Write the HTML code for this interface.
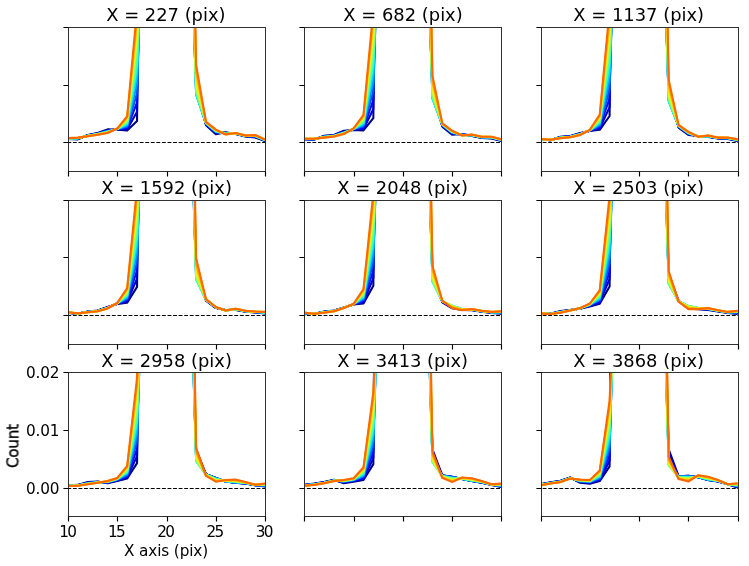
<!DOCTYPE html>
<html lang="en"><head><meta charset="utf-8"><title>Profiles</title>
<style>html,body{margin:0;padding:0;background:#fff}svg{display:block}</style></head>
<body>
<svg width="749" height="566" viewBox="0 0 749 566" font-family="'DejaVu Sans', 'Liberation Sans', sans-serif" fill="#000">
<rect width="749" height="566" fill="#fff"/>
<defs>
<clipPath id="c00"><rect x="68.5" y="27.5" width="197.0" height="144.0"/></clipPath>
<clipPath id="c01"><rect x="304.5" y="27.5" width="197.0" height="144.0"/></clipPath>
<clipPath id="c02"><rect x="541.5" y="27.5" width="197.0" height="144.0"/></clipPath>
<clipPath id="c10"><rect x="68.5" y="200.5" width="197.0" height="144.0"/></clipPath>
<clipPath id="c11"><rect x="304.5" y="200.5" width="197.0" height="144.0"/></clipPath>
<clipPath id="c12"><rect x="541.5" y="200.5" width="197.0" height="144.0"/></clipPath>
<clipPath id="c20"><rect x="68.5" y="372.5" width="197.0" height="144.0"/></clipPath>
<clipPath id="c21"><rect x="304.5" y="372.5" width="197.0" height="144.0"/></clipPath>
<clipPath id="c22"><rect x="541.5" y="372.5" width="197.0" height="144.0"/></clipPath>
</defs>
<g clip-path="url(#c00)" fill="none" stroke-width="2.08" stroke-linejoin="round" stroke-linecap="butt">
<polyline stroke="#000080" points="68.10,139.00 77.95,139.40 87.80,134.90 97.65,133.00 107.50,129.40 117.35,129.80 127.20,130.40 137.05,121.00 146.90,-1357.50"/>
<polyline stroke="#000080" points="186.30,-257.50 196.15,82.50 206.00,125.30 215.85,134.20 225.70,132.20 235.55,134.00 245.40,136.50 255.25,137.50 265.10,141.00"/>
<polyline stroke="#0000cd" points="68.10,138.80 77.95,138.99 87.80,135.19 97.65,133.38 107.50,130.21 117.35,129.51 127.20,129.22 137.05,111.71 146.90,-657.50"/>
<polyline stroke="#0000cd" points="186.30,-233.61 196.15,87.15 206.00,124.53 215.85,133.16 225.70,132.72 235.55,133.77 245.40,136.27 255.25,136.94 265.10,140.71"/>
<polyline stroke="#0008ff" points="68.10,138.69 77.95,138.79 87.80,135.34 97.65,133.58 107.50,130.63 117.35,129.36 127.20,128.03 137.05,102.42 146.90,-337.50"/>
<polyline stroke="#0008ff" points="186.30,-216.94 196.15,90.69 206.00,124.14 215.85,132.63 225.70,132.98 235.55,133.66 245.40,136.16 255.25,136.65 265.10,140.56"/>
<polyline stroke="#004cff" points="68.10,138.61 77.95,138.62 87.80,135.47 97.65,133.74 107.50,130.97 117.35,129.23 127.20,126.85 137.05,93.12 146.90,-237.50"/>
<polyline stroke="#004cff" points="186.30,-207.50 196.15,93.12 206.00,123.82 215.85,132.20 225.70,133.20 235.55,133.56 245.40,136.06 255.25,136.41 265.10,140.43"/>
<polyline stroke="#0090ff" points="68.10,138.53 77.95,138.47 87.80,135.57 97.65,133.88 107.50,131.26 117.35,129.13 127.20,125.67 137.05,83.83 146.90,-197.50"/>
<polyline stroke="#0090ff" points="186.30,-205.28 196.15,94.44 206.00,123.54 215.85,131.82 225.70,133.39 235.55,133.48 245.40,135.98 255.25,136.21 265.10,140.33"/>
<polyline stroke="#00d4ff" points="68.10,138.47 77.95,138.34 87.80,135.67 97.65,134.01 107.50,131.53 117.35,129.03 127.20,124.48 137.05,74.54 146.90,-177.50"/>
<polyline stroke="#00d4ff" points="186.30,-210.28 196.15,94.65 206.00,123.29 215.85,131.48 225.70,133.56 235.55,133.41 245.40,135.91 255.25,136.02 265.10,140.23"/>
<polyline stroke="#29ffce" points="68.10,138.41 77.95,138.21 87.80,135.76 97.65,134.12 107.50,131.78 117.35,128.94 127.20,123.30 137.05,65.25 146.90,-177.50"/>
<polyline stroke="#29ffce" points="186.30,-222.50 196.15,93.75 206.00,123.06 215.85,131.17 225.70,133.72 235.55,133.34 245.40,135.84 255.25,135.85 265.10,140.14"/>
<polyline stroke="#60ff97" points="68.10,138.35 77.95,138.10 87.80,135.84 97.65,134.23 107.50,132.01 117.35,128.86 127.20,122.12 137.05,55.96 146.90,-177.50"/>
<polyline stroke="#60ff97" points="186.30,-241.94 196.15,91.74 206.00,122.84 215.85,130.87 225.70,133.86 235.55,133.28 245.40,135.78 255.25,135.69 265.10,140.06"/>
<polyline stroke="#97ff60" points="68.10,138.29 77.95,137.99 87.80,135.92 97.65,134.33 107.50,132.22 117.35,128.78 127.20,120.93 137.05,46.67 146.90,-177.50"/>
<polyline stroke="#97ff60" points="186.30,-268.61 196.15,88.61 206.00,122.63 215.85,130.59 225.70,134.00 235.55,133.22 245.40,135.72 255.25,135.54 265.10,139.98"/>
<polyline stroke="#ceff29" points="68.10,138.24 77.95,137.89 87.80,135.99 97.65,134.43 107.50,132.43 117.35,128.71 127.20,119.75 137.05,37.38 146.90,-177.50"/>
<polyline stroke="#ceff29" points="186.30,-302.50 196.15,84.38 206.00,122.44 215.85,130.33 225.70,134.14 235.55,133.16 245.40,135.66 255.25,135.40 265.10,139.91"/>
<polyline stroke="#ffe600" points="68.10,138.19 77.95,137.79 87.80,136.07 97.65,134.52 107.50,132.63 117.35,128.63 127.20,118.57 137.05,28.08 146.90,-177.50"/>
<polyline stroke="#ffe600" points="186.30,-343.61 196.15,79.03 206.00,122.25 215.85,130.08 225.70,134.26 235.55,133.10 245.40,135.60 255.25,135.26 265.10,139.83"/>
<polyline stroke="#ffa700" points="68.10,138.15 77.95,137.69 87.80,136.13 97.65,134.61 107.50,132.82 117.35,128.57 127.20,117.38 137.05,18.79 146.90,-177.50"/>
<polyline stroke="#ffa700" points="186.30,-391.94 196.15,72.57 206.00,122.07 215.85,129.83 225.70,134.38 235.55,133.05 245.40,135.55 255.25,135.13 265.10,139.77"/>
<polyline stroke="#ff6800" points="68.10,138.10 77.95,137.60 87.80,136.20 97.65,134.70 107.50,133.00 117.35,128.50 127.20,116.20 137.05,9.50 146.90,-177.50"/>
<polyline stroke="#ff6800" points="186.30,-447.50 196.15,65.00 206.00,121.90 215.85,129.60 225.70,134.50 235.55,133.00 245.40,135.50 255.25,135.00 265.10,139.70"/>
</g>
<line x1="68.5" y1="142.5" x2="265.5" y2="142.5" stroke="#000" stroke-width="1.05" stroke-dasharray="3.87 1.695" stroke-dashoffset="1.165"/>
<rect x="68.5" y="27.5" width="197.0" height="144.0" fill="none" stroke="#303030" stroke-width="1"/>
<path d="M68.5,171.5v5.1 M117.5,171.5v5.1 M167.5,171.5v5.1 M216.5,171.5v5.1 M265.5,171.5v5.1 M68.5,27.5h-5.1 M68.5,85.5h-5.1 M68.5,142.5h-5.1" stroke="#000" stroke-width="1.15" fill="none"/>
<g clip-path="url(#c01)" fill="none" stroke-width="2.08" stroke-linejoin="round" stroke-linecap="butt">
<polyline stroke="#000080" points="304.40,139.30 314.25,139.60 324.10,135.70 333.95,135.00 343.80,130.80 353.65,130.00 363.50,130.40 373.35,118.10 383.20,-1357.50"/>
<polyline stroke="#000080" points="422.60,-257.50 432.45,88.50 442.30,126.60 452.15,134.60 462.00,134.00 471.85,136.00 481.70,138.00 491.55,138.50 501.40,141.00"/>
<polyline stroke="#0000cd" points="304.40,139.16 314.25,139.40 324.10,136.13 333.95,135.34 343.80,131.52 353.65,129.62 363.50,129.11 373.35,109.05 383.20,-657.50"/>
<polyline stroke="#0000cd" points="422.60,-233.61 432.45,92.32 442.30,125.88 452.15,133.74 462.00,134.34 471.85,135.68 481.70,137.71 491.55,138.09 501.40,140.62"/>
<polyline stroke="#0008ff" points="304.40,139.10 314.25,139.29 324.10,136.35 333.95,135.51 343.80,131.89 353.65,129.42 363.50,127.82 373.35,100.00 383.20,-337.50"/>
<polyline stroke="#0008ff" points="422.60,-216.94 432.45,95.26 442.30,125.51 452.15,133.30 462.00,134.51 471.85,135.52 481.70,137.56 491.55,137.89 501.40,140.42"/>
<polyline stroke="#004cff" points="304.40,139.04 314.25,139.21 324.10,136.53 333.95,135.65 343.80,132.19 353.65,129.26 363.50,126.53 373.35,90.95 383.20,-237.50"/>
<polyline stroke="#004cff" points="422.60,-207.50 432.45,97.30 442.30,125.21 452.15,132.95 462.00,134.65 471.85,135.39 481.70,137.43 491.55,137.72 501.40,140.26"/>
<polyline stroke="#0090ff" points="304.40,138.99 314.25,139.13 324.10,136.68 333.95,135.78 343.80,132.46 353.65,129.12 363.50,125.23 373.35,81.90 383.20,-197.50"/>
<polyline stroke="#0090ff" points="422.60,-205.28 432.45,98.46 442.30,124.94 452.15,132.63 462.00,134.78 471.85,135.28 481.70,137.33 491.55,137.57 501.40,140.12"/>
<polyline stroke="#00d4ff" points="304.40,138.95 314.25,139.07 324.10,136.82 333.95,135.89 343.80,132.69 353.65,128.99 363.50,123.94 373.35,72.85 383.20,-177.50"/>
<polyline stroke="#00d4ff" points="422.60,-210.28 432.45,98.72 442.30,124.71 452.15,132.35 462.00,134.89 471.85,135.17 481.70,137.23 491.55,137.44 501.40,139.99"/>
<polyline stroke="#29ffce" points="304.40,138.90 314.25,139.01 324.10,136.95 333.95,135.99 343.80,132.91 353.65,128.88 363.50,122.65 373.35,63.80 383.20,-177.50"/>
<polyline stroke="#29ffce" points="422.60,-222.50 432.45,98.10 442.30,124.49 452.15,132.09 462.00,134.99 471.85,135.08 481.70,137.14 491.55,137.31 501.40,139.88"/>
<polyline stroke="#60ff97" points="304.40,138.87 314.25,138.95 324.10,137.08 333.95,136.09 343.80,133.12 353.65,128.77 363.50,121.36 373.35,54.75 383.20,-177.50"/>
<polyline stroke="#60ff97" points="422.60,-241.94 432.45,96.59 442.30,124.28 452.15,131.85 462.00,135.09 471.85,134.99 481.70,137.06 491.55,137.20 501.40,139.77"/>
<polyline stroke="#97ff60" points="304.40,138.83 314.25,138.89 324.10,137.19 333.95,136.18 343.80,133.31 353.65,128.67 363.50,120.07 373.35,45.70 383.20,-177.50"/>
<polyline stroke="#97ff60" points="422.60,-268.61 432.45,94.19 442.30,124.09 452.15,131.62 462.00,135.18 471.85,134.90 481.70,136.98 491.55,137.09 501.40,139.67"/>
<polyline stroke="#ceff29" points="304.40,138.80 314.25,138.84 324.10,137.30 333.95,136.26 343.80,133.49 353.65,128.57 363.50,118.78 373.35,36.65 383.20,-177.50"/>
<polyline stroke="#ceff29" points="422.60,-302.50 432.45,90.90 442.30,123.91 452.15,131.40 462.00,135.26 471.85,134.82 481.70,136.91 491.55,136.99 501.40,139.57"/>
<polyline stroke="#ffe600" points="304.40,138.76 314.25,138.79 324.10,137.40 333.95,136.34 343.80,133.67 353.65,128.48 363.50,117.48 373.35,27.60 383.20,-177.50"/>
<polyline stroke="#ffe600" points="422.60,-343.61 432.45,86.72 442.30,123.73 452.15,131.19 462.00,135.34 471.85,134.75 481.70,136.83 491.55,136.89 501.40,139.48"/>
<polyline stroke="#ffa700" points="304.40,138.73 314.25,138.75 324.10,137.50 333.95,136.42 343.80,133.84 353.65,128.39 363.50,116.19 373.35,18.55 383.20,-177.50"/>
<polyline stroke="#ffa700" points="422.60,-391.94 432.45,81.66 442.30,123.56 452.15,130.99 462.00,135.42 471.85,134.67 481.70,136.77 491.55,136.79 501.40,139.39"/>
<polyline stroke="#ff6800" points="304.40,138.70 314.25,138.70 324.10,137.60 333.95,136.50 343.80,134.00 353.65,128.30 363.50,114.90 373.35,9.50 383.20,-177.50"/>
<polyline stroke="#ff6800" points="422.60,-447.50 432.45,75.70 442.30,123.40 452.15,130.80 462.00,135.50 471.85,134.60 481.70,136.70 491.55,136.70 501.40,139.30"/>
</g>
<line x1="304.5" y1="142.5" x2="501.5" y2="142.5" stroke="#000" stroke-width="1.05" stroke-dasharray="3.87 1.695" stroke-dashoffset="3.215"/>
<rect x="304.5" y="27.5" width="197.0" height="144.0" fill="none" stroke="#303030" stroke-width="1"/>
<path d="M304.5,171.5v5.1 M354.5,171.5v5.1 M403.5,171.5v5.1 M452.5,171.5v5.1 M501.5,171.5v5.1 M304.5,27.5h-5.1 M304.5,85.5h-5.1 M304.5,142.5h-5.1" stroke="#000" stroke-width="1.15" fill="none"/>
<g clip-path="url(#c02)" fill="none" stroke-width="2.08" stroke-linejoin="round" stroke-linecap="butt">
<polyline stroke="#000080" points="540.65,139.50 550.50,140.30 560.35,136.70 570.20,136.00 580.05,133.00 589.90,131.00 599.75,129.80 609.60,116.00 619.45,-1357.50"/>
<polyline stroke="#000080" points="658.85,-257.50 668.70,91.50 678.55,127.60 688.40,135.00 698.25,136.00 708.10,137.00 717.95,138.50 727.80,139.00 737.65,141.00"/>
<polyline stroke="#0000cd" points="540.65,139.36 550.50,140.16 560.35,137.04 570.20,136.27 580.05,133.45 589.90,130.73 599.75,128.53 609.60,107.12 619.45,-657.50"/>
<polyline stroke="#0000cd" points="658.85,-233.61 668.70,95.12 678.55,126.99 688.40,134.30 698.25,136.16 708.10,136.66 717.95,138.30 727.80,138.68 737.65,140.62"/>
<polyline stroke="#0008ff" points="540.65,139.30 550.50,140.10 560.35,137.21 570.20,136.41 580.05,133.68 589.90,130.59 599.75,127.25 609.60,98.25 619.45,-337.50"/>
<polyline stroke="#0008ff" points="658.85,-216.94 668.70,97.92 678.55,126.68 688.40,133.94 698.25,136.24 708.10,136.49 717.95,138.19 727.80,138.52 737.65,140.42"/>
<polyline stroke="#004cff" points="540.65,139.24 550.50,140.04 560.35,137.35 570.20,136.52 580.05,133.87 589.90,130.48 599.75,125.98 609.60,89.38 619.45,-237.50"/>
<polyline stroke="#004cff" points="658.85,-207.50 668.70,99.88 678.55,126.42 688.40,133.65 698.25,136.30 708.10,136.35 717.95,138.11 727.80,138.39 737.65,140.26"/>
<polyline stroke="#0090ff" points="540.65,139.19 550.50,139.99 560.35,137.48 570.20,136.62 580.05,134.03 589.90,130.38 599.75,124.70 609.60,80.50 619.45,-197.50"/>
<polyline stroke="#0090ff" points="658.85,-205.28 668.70,101.00 678.55,126.20 688.40,133.40 698.25,136.36 708.10,136.22 717.95,138.03 727.80,138.28 737.65,140.12"/>
<polyline stroke="#00d4ff" points="540.65,139.15 550.50,139.95 560.35,137.59 570.20,136.71 580.05,134.18 589.90,130.29 599.75,123.43 609.60,71.62 619.45,-177.50"/>
<polyline stroke="#00d4ff" points="658.85,-210.28 668.70,101.29 678.55,126.00 688.40,133.17 698.25,136.41 708.10,136.11 717.95,137.97 727.80,138.17 737.65,139.99"/>
<polyline stroke="#29ffce" points="540.65,139.10 550.50,139.90 560.35,137.69 570.20,136.79 580.05,134.32 589.90,130.21 599.75,122.15 609.60,62.75 619.45,-177.50"/>
<polyline stroke="#29ffce" points="658.85,-222.50 668.70,100.75 678.55,125.82 688.40,132.95 698.25,136.46 708.10,136.01 717.95,137.91 727.80,138.08 737.65,139.88"/>
<polyline stroke="#60ff97" points="540.65,139.07 550.50,139.87 560.35,137.79 570.20,136.87 580.05,134.45 589.90,130.13 599.75,120.88 609.60,53.87 619.45,-177.50"/>
<polyline stroke="#60ff97" points="658.85,-241.94 668.70,99.38 678.55,125.65 688.40,132.76 698.25,136.51 708.10,135.91 717.95,137.85 727.80,137.99 737.65,139.77"/>
<polyline stroke="#97ff60" points="540.65,139.03 550.50,139.83 560.35,137.88 570.20,136.94 580.05,134.57 589.90,130.06 599.75,119.60 609.60,45.00 619.45,-177.50"/>
<polyline stroke="#97ff60" points="658.85,-268.61 668.70,97.17 678.55,125.48 688.40,132.57 698.25,136.55 708.10,135.82 717.95,137.79 727.80,137.90 737.65,139.67"/>
<polyline stroke="#ceff29" points="540.65,139.00 550.50,139.80 560.35,137.96 570.20,137.01 580.05,134.68 589.90,129.99 599.75,118.33 609.60,36.12 619.45,-177.50"/>
<polyline stroke="#ceff29" points="658.85,-302.50 668.70,94.12 678.55,125.33 688.40,132.39 698.25,136.59 708.10,135.74 717.95,137.74 727.80,137.82 737.65,139.57"/>
<polyline stroke="#ffe600" points="540.65,138.96 550.50,139.76 560.35,138.04 570.20,137.08 580.05,134.79 589.90,129.92 599.75,117.05 609.60,27.25 619.45,-177.50"/>
<polyline stroke="#ffe600" points="658.85,-343.61 668.70,90.25 678.55,125.18 688.40,132.22 698.25,136.63 708.10,135.66 717.95,137.69 727.80,137.75 737.65,139.48"/>
<polyline stroke="#ffa700" points="540.65,138.93 550.50,139.73 560.35,138.12 570.20,137.14 580.05,134.90 589.90,129.86 599.75,115.78 609.60,18.38 619.45,-177.50"/>
<polyline stroke="#ffa700" points="658.85,-391.94 668.70,85.54 678.55,125.04 688.40,132.06 698.25,136.66 708.10,135.58 717.95,137.65 727.80,137.67 737.65,139.39"/>
<polyline stroke="#ff6800" points="540.65,138.90 550.50,139.70 560.35,138.20 570.20,137.20 580.05,135.00 589.90,129.80 599.75,114.50 609.60,9.50 619.45,-177.50"/>
<polyline stroke="#ff6800" points="658.85,-447.50 668.70,80.00 678.55,124.90 688.40,131.90 698.25,136.70 708.10,135.50 717.95,137.60 727.80,137.60 737.65,139.30"/>
</g>
<line x1="541.5" y1="142.5" x2="738.5" y2="142.5" stroke="#000" stroke-width="1.05" stroke-dasharray="3.87 1.695" stroke-dashoffset="4.415"/>
<rect x="541.5" y="27.5" width="197.0" height="144.0" fill="none" stroke="#303030" stroke-width="1"/>
<path d="M541.5,171.5v5.1 M590.5,171.5v5.1 M639.5,171.5v5.1 M688.5,171.5v5.1 M738.5,171.5v5.1 M541.5,27.5h-5.1 M541.5,85.5h-5.1 M541.5,142.5h-5.1" stroke="#000" stroke-width="1.15" fill="none"/>
<g clip-path="url(#c10)" fill="none" stroke-width="2.08" stroke-linejoin="round" stroke-linecap="butt">
<polyline stroke="#000080" points="68.10,312.90 77.95,313.70 87.80,311.50 97.65,310.50 107.50,307.00 117.35,304.00 127.20,302.80 137.05,286.90 146.90,-1184.50"/>
<polyline stroke="#000080" points="186.30,-84.50 196.15,263.50 206.00,300.70 215.85,308.10 225.70,310.00 235.55,310.00 245.40,311.70 255.25,312.50 265.10,313.50"/>
<polyline stroke="#0000cd" points="68.10,312.76 77.95,313.63 87.80,311.68 97.65,310.68 107.50,307.34 117.35,303.73 127.20,301.57 137.05,278.62 146.90,-484.50"/>
<polyline stroke="#0000cd" points="186.30,-60.61 196.15,268.75 206.00,300.36 215.85,307.85 225.70,310.14 235.55,309.71 245.40,311.50 255.25,312.27 265.10,313.14"/>
<polyline stroke="#0008ff" points="68.10,312.70 77.95,313.60 87.80,311.77 97.65,310.77 107.50,307.51 117.35,303.59 127.20,300.33 137.05,270.33 146.90,-164.50"/>
<polyline stroke="#0008ff" points="186.30,-43.94 196.15,272.97 206.00,300.19 215.85,307.72 225.70,310.20 235.55,309.56 245.40,311.39 255.25,312.16 265.10,312.95"/>
<polyline stroke="#004cff" points="68.10,312.64 77.95,313.57 87.80,311.85 97.65,310.85 107.50,307.65 117.35,303.48 127.20,299.10 137.05,262.05 146.90,-64.50"/>
<polyline stroke="#004cff" points="186.30,-34.50 196.15,276.15 206.00,300.05 215.85,307.62 225.70,310.26 235.55,309.43 245.40,311.31 255.25,312.06 265.10,312.80"/>
<polyline stroke="#0090ff" points="68.10,312.59 77.95,313.54 87.80,311.91 97.65,310.91 107.50,307.78 117.35,303.38 127.20,297.87 137.05,253.77 146.90,-24.50"/>
<polyline stroke="#0090ff" points="186.30,-32.28 196.15,278.30 206.00,299.92 215.85,307.53 225.70,310.31 235.55,309.33 245.40,311.23 255.25,311.98 265.10,312.67"/>
<polyline stroke="#00d4ff" points="68.10,312.55 77.95,313.52 87.80,311.97 97.65,310.97 107.50,307.89 117.35,303.29 127.20,296.63 137.05,245.48 146.90,-4.50"/>
<polyline stroke="#00d4ff" points="186.30,-37.28 196.15,279.42 206.00,299.81 215.85,307.45 225.70,310.35 235.55,309.23 245.40,311.17 255.25,311.91 265.10,312.55"/>
<polyline stroke="#29ffce" points="68.10,312.50 77.95,313.50 87.80,312.03 97.65,311.03 107.50,307.99 117.35,303.21 127.20,295.40 137.05,237.20 146.90,-4.50"/>
<polyline stroke="#29ffce" points="186.30,-49.50 196.15,279.50 206.00,299.71 215.85,307.37 225.70,310.40 235.55,309.14 245.40,311.11 255.25,311.84 265.10,312.44"/>
<polyline stroke="#60ff97" points="68.10,312.47 77.95,313.48 87.80,312.08 97.65,311.08 107.50,308.09 117.35,303.13 127.20,294.17 137.05,228.92 146.90,-4.50"/>
<polyline stroke="#60ff97" points="186.30,-68.94 196.15,278.55 206.00,299.61 215.85,307.30 225.70,310.43 235.55,309.06 245.40,311.05 255.25,311.78 265.10,312.34"/>
<polyline stroke="#97ff60" points="68.10,312.43 77.95,313.46 87.80,312.13 97.65,311.13 107.50,308.18 117.35,303.06 127.20,292.93 137.05,220.63 146.90,-4.50"/>
<polyline stroke="#97ff60" points="186.30,-95.61 196.15,276.57 206.00,299.52 215.85,307.24 225.70,310.47 235.55,308.98 245.40,310.99 255.25,311.72 265.10,312.25"/>
<polyline stroke="#ceff29" points="68.10,312.40 77.95,313.45 87.80,312.17 97.65,311.17 107.50,308.26 117.35,302.99 127.20,291.70 137.05,212.35 146.90,-4.50"/>
<polyline stroke="#ceff29" points="186.30,-129.50 196.15,273.55 206.00,299.44 215.85,307.17 225.70,310.50 235.55,308.91 245.40,310.94 255.25,311.66 265.10,312.15"/>
<polyline stroke="#ffe600" points="68.10,312.36 77.95,313.43 87.80,312.22 97.65,311.22 107.50,308.34 117.35,302.92 127.20,290.47 137.05,204.07 146.90,-4.50"/>
<polyline stroke="#ffe600" points="186.30,-170.61 196.15,269.50 206.00,299.36 215.85,307.11 225.70,310.54 235.55,308.83 245.40,310.89 255.25,311.60 265.10,312.07"/>
<polyline stroke="#ffa700" points="68.10,312.33 77.95,313.42 87.80,312.26 97.65,311.26 107.50,308.42 117.35,302.86 127.20,289.23 137.05,195.78 146.90,-4.50"/>
<polyline stroke="#ffa700" points="186.30,-218.94 196.15,264.42 206.00,299.28 215.85,307.06 225.70,310.57 235.55,308.77 245.40,310.85 255.25,311.55 265.10,311.98"/>
<polyline stroke="#ff6800" points="68.10,312.30 77.95,313.40 87.80,312.30 97.65,311.30 107.50,308.50 117.35,302.80 127.20,288.00 137.05,187.50 146.90,-4.50"/>
<polyline stroke="#ff6800" points="186.30,-274.50 196.15,258.30 206.00,299.20 215.85,307.00 225.70,310.60 235.55,308.70 245.40,310.80 255.25,311.50 265.10,311.90"/>
</g>
<line x1="68.5" y1="315.5" x2="265.5" y2="315.5" stroke="#000" stroke-width="1.05" stroke-dasharray="3.87 1.695" stroke-dashoffset="1.165"/>
<rect x="68.5" y="200.5" width="197.0" height="144.0" fill="none" stroke="#303030" stroke-width="1"/>
<path d="M68.5,344.5v5.1 M117.5,344.5v5.1 M167.5,344.5v5.1 M216.5,344.5v5.1 M265.5,344.5v5.1 M68.5,200.5h-5.1 M68.5,257.5h-5.1 M68.5,315.5h-5.1" stroke="#000" stroke-width="1.15" fill="none"/>
<g clip-path="url(#c11)" fill="none" stroke-width="2.08" stroke-linejoin="round" stroke-linecap="butt">
<polyline stroke="#000080" points="304.40,313.10 314.25,313.90 324.10,311.50 333.95,310.50 343.80,307.50 353.65,304.50 363.50,303.40 373.35,285.80 383.20,-1184.50"/>
<polyline stroke="#000080" points="422.60,-84.50 432.45,269.50 442.30,302.40 452.15,308.30 462.00,309.90 471.85,310.20 481.70,311.70 491.55,312.90 501.40,313.70"/>
<polyline stroke="#0000cd" points="304.40,313.01 314.25,313.88 324.10,311.77 333.95,310.68 343.80,307.64 353.65,304.34 363.50,302.20 373.35,278.05 383.20,-484.50"/>
<polyline stroke="#0000cd" points="422.60,-60.61 432.45,273.46 442.30,302.02 452.15,307.52 462.00,309.66 471.85,309.95 481.70,311.50 491.55,312.67 501.40,313.16"/>
<polyline stroke="#0008ff" points="304.40,312.96 314.25,313.87 324.10,311.91 333.95,310.77 343.80,307.70 353.65,304.26 363.50,301.00 373.35,270.30 383.20,-164.50"/>
<polyline stroke="#0008ff" points="422.60,-43.94 432.45,276.64 442.30,301.82 452.15,306.90 462.00,309.45 471.85,309.82 481.70,311.39 491.55,312.56 501.40,312.88"/>
<polyline stroke="#004cff" points="304.40,312.93 314.25,313.86 324.10,312.02 333.95,310.85 343.80,307.76 353.65,304.20 363.50,299.80 373.35,262.55 383.20,-64.50"/>
<polyline stroke="#004cff" points="422.60,-34.50 432.45,279.05 442.30,301.66 452.15,306.41 462.00,309.28 471.85,309.72 481.70,311.31 491.55,312.46 501.40,312.66"/>
<polyline stroke="#0090ff" points="304.40,312.89 314.25,313.85 324.10,312.12 333.95,310.91 343.80,307.81 353.65,304.14 363.50,298.60 373.35,254.80 383.20,-24.50"/>
<polyline stroke="#0090ff" points="422.60,-32.28 432.45,280.68 442.30,301.52 452.15,306.06 462.00,309.17 471.85,309.63 481.70,311.23 491.55,312.38 501.40,312.46"/>
<polyline stroke="#00d4ff" points="304.40,312.86 314.25,313.84 324.10,312.21 333.95,310.97 343.80,307.85 353.65,304.09 363.50,297.40 373.35,247.05 383.20,-4.50"/>
<polyline stroke="#00d4ff" points="422.60,-37.28 432.45,281.53 442.30,301.39 452.15,305.85 462.00,309.11 471.85,309.55 481.70,311.17 491.55,312.31 501.40,312.28"/>
<polyline stroke="#29ffce" points="304.40,312.84 314.25,313.83 324.10,312.29 333.95,311.03 343.80,307.90 353.65,304.04 363.50,296.20 373.35,239.30 383.20,-4.50"/>
<polyline stroke="#29ffce" points="422.60,-49.50 432.45,281.60 442.30,301.28 452.15,305.77 462.00,309.10 471.85,309.47 481.70,311.11 491.55,312.24 501.40,312.12"/>
<polyline stroke="#60ff97" points="304.40,312.81 314.25,313.83 324.10,312.37 333.95,311.08 343.80,307.93 353.65,303.99 363.50,295.00 373.35,231.55 383.20,-4.50"/>
<polyline stroke="#60ff97" points="422.60,-68.94 432.45,280.89 442.30,301.17 452.15,305.82 462.00,309.14 471.85,309.40 481.70,311.05 491.55,312.18 501.40,311.96"/>
<polyline stroke="#97ff60" points="304.40,312.79 314.25,313.82 324.10,312.44 333.95,311.13 343.80,307.97 353.65,303.95 363.50,293.80 373.35,223.80 383.20,-4.50"/>
<polyline stroke="#97ff60" points="422.60,-95.61 432.45,279.41 442.30,301.07 452.15,306.01 462.00,309.25 471.85,309.34 481.70,310.99 491.55,312.12 501.40,311.82"/>
<polyline stroke="#ceff29" points="304.40,312.76 314.25,313.82 324.10,312.51 333.95,311.17 343.80,308.00 353.65,303.91 363.50,292.60 373.35,216.05 383.20,-4.50"/>
<polyline stroke="#ceff29" points="422.60,-129.50 432.45,277.15 442.30,300.97 452.15,306.33 462.00,309.40 471.85,309.27 481.70,310.94 491.55,312.06 501.40,311.68"/>
<polyline stroke="#ffe600" points="304.40,312.74 314.25,313.81 324.10,312.58 333.95,311.22 343.80,308.04 353.65,303.87 363.50,291.40 373.35,208.30 383.20,-4.50"/>
<polyline stroke="#ffe600" points="422.60,-170.61 432.45,274.11 442.30,300.88 452.15,306.79 462.00,309.61 471.85,309.21 481.70,310.89 491.55,312.00 501.40,311.55"/>
<polyline stroke="#ffa700" points="304.40,312.72 314.25,313.81 324.10,312.64 333.95,311.26 343.80,308.07 353.65,303.84 363.50,290.20 373.35,200.55 383.20,-4.50"/>
<polyline stroke="#ffa700" points="422.60,-218.94 432.45,270.29 442.30,300.79 452.15,307.38 462.00,309.88 471.85,309.16 481.70,310.85 491.55,311.95 501.40,311.42"/>
<polyline stroke="#ff6800" points="304.40,312.70 314.25,313.80 324.10,312.70 333.95,311.30 343.80,308.10 353.65,303.80 363.50,289.00 373.35,192.80 383.20,-4.50"/>
<polyline stroke="#ff6800" points="422.60,-274.50 432.45,265.70 442.30,300.70 452.15,308.10 462.00,310.20 471.85,309.10 481.70,310.80 491.55,311.90 501.40,311.30"/>
</g>
<line x1="304.5" y1="315.5" x2="501.5" y2="315.5" stroke="#000" stroke-width="1.05" stroke-dasharray="3.87 1.695" stroke-dashoffset="3.215"/>
<rect x="304.5" y="200.5" width="197.0" height="144.0" fill="none" stroke="#303030" stroke-width="1"/>
<path d="M304.5,344.5v5.1 M354.5,344.5v5.1 M403.5,344.5v5.1 M452.5,344.5v5.1 M501.5,344.5v5.1 M304.5,200.5h-5.1 M304.5,257.5h-5.1 M304.5,315.5h-5.1" stroke="#000" stroke-width="1.15" fill="none"/>
<g clip-path="url(#c12)" fill="none" stroke-width="2.08" stroke-linejoin="round" stroke-linecap="butt">
<polyline stroke="#000080" points="540.65,313.10 550.50,313.70 560.35,311.10 570.20,310.00 580.05,308.70 589.90,306.50 599.75,303.80 609.60,286.50 619.45,-1184.50"/>
<polyline stroke="#000080" points="658.85,-84.50 668.70,273.50 678.55,300.70 688.40,308.70 698.25,309.30 708.10,310.00 717.95,311.50 727.80,312.90 737.65,313.90"/>
<polyline stroke="#0000cd" points="540.65,313.17 550.50,313.77 560.35,311.46 570.20,310.14 580.05,308.56 589.90,305.82 599.75,302.66 609.60,278.92 619.45,-484.50"/>
<polyline stroke="#0000cd" points="658.85,-60.61 668.70,276.81 678.55,300.93 688.40,307.87 698.25,308.89 708.10,309.57 717.95,311.21 727.80,312.67 737.65,313.20"/>
<polyline stroke="#0008ff" points="540.65,313.20 550.50,313.80 560.35,311.65 570.20,310.20 580.05,308.50 589.90,305.48 599.75,301.52 609.60,271.33 619.45,-164.50"/>
<polyline stroke="#0008ff" points="658.85,-43.94 668.70,279.47 678.55,301.04 688.40,307.17 698.25,308.57 708.10,309.35 717.95,311.06 727.80,312.56 737.65,312.84"/>
<polyline stroke="#004cff" points="540.65,313.23 550.50,313.83 560.35,311.80 570.20,310.26 580.05,308.44 589.90,305.19 599.75,300.38 609.60,263.75 619.45,-64.50"/>
<polyline stroke="#004cff" points="658.85,-34.50 668.70,281.50 678.55,301.14 688.40,306.62 698.25,308.31 708.10,309.17 717.95,310.93 727.80,312.46 737.65,312.55"/>
<polyline stroke="#0090ff" points="540.65,313.26 550.50,313.86 560.35,311.93 570.20,310.31 580.05,308.39 589.90,304.95 599.75,299.23 609.60,256.17 619.45,-24.50"/>
<polyline stroke="#0090ff" points="658.85,-32.28 668.70,282.89 678.55,301.22 688.40,306.24 698.25,308.13 708.10,309.02 717.95,310.83 727.80,312.38 737.65,312.30"/>
<polyline stroke="#00d4ff" points="540.65,313.28 550.50,313.88 560.35,312.05 570.20,310.35 580.05,308.35 589.90,304.73 599.75,298.09 609.60,248.58 619.45,-4.50"/>
<polyline stroke="#00d4ff" points="658.85,-37.28 668.70,283.64 678.55,301.29 688.40,306.02 698.25,308.02 708.10,308.88 717.95,310.73 727.80,312.31 737.65,312.07"/>
<polyline stroke="#29ffce" points="540.65,313.30 550.50,313.90 560.35,312.16 570.20,310.40 580.05,308.30 589.90,304.52 599.75,296.95 609.60,241.00 619.45,-4.50"/>
<polyline stroke="#29ffce" points="658.85,-49.50 668.70,283.75 678.55,301.36 688.40,305.96 698.25,307.97 708.10,308.75 717.95,310.64 727.80,312.24 737.65,311.85"/>
<polyline stroke="#60ff97" points="540.65,313.32 550.50,313.92 560.35,312.26 570.20,310.43 580.05,308.27 589.90,304.33 599.75,295.81 609.60,233.42 619.45,-4.50"/>
<polyline stroke="#60ff97" points="658.85,-68.94 668.70,283.22 678.55,301.42 688.40,306.07 698.25,307.99 708.10,308.62 717.95,310.56 727.80,312.18 737.65,311.66"/>
<polyline stroke="#97ff60" points="540.65,313.34 550.50,313.94 560.35,312.35 570.20,310.47 580.05,308.23 589.90,304.15 599.75,294.67 609.60,225.83 619.45,-4.50"/>
<polyline stroke="#97ff60" points="658.85,-95.61 668.70,282.06 678.55,301.48 688.40,306.35 698.25,308.08 708.10,308.51 717.95,310.48 727.80,312.12 737.65,311.47"/>
<polyline stroke="#ceff29" points="540.65,313.35 550.50,313.95 560.35,312.45 570.20,310.50 580.05,308.20 589.90,303.98 599.75,293.52 609.60,218.25 619.45,-4.50"/>
<polyline stroke="#ceff29" points="658.85,-129.50 668.70,280.25 678.55,301.54 688.40,306.79 698.25,308.23 708.10,308.40 717.95,310.41 727.80,312.06 737.65,311.29"/>
<polyline stroke="#ffe600" points="540.65,313.37 550.50,313.97 560.35,312.53 570.20,310.54 580.05,308.16 589.90,303.81 599.75,292.38 609.60,210.67 619.45,-4.50"/>
<polyline stroke="#ffe600" points="658.85,-170.61 668.70,277.81 678.55,301.60 688.40,307.39 698.25,308.45 708.10,308.30 717.95,310.33 727.80,312.00 737.65,311.12"/>
<polyline stroke="#ffa700" points="540.65,313.38 550.50,313.98 560.35,312.62 570.20,310.57 580.05,308.13 589.90,303.65 599.75,291.24 609.60,203.08 619.45,-4.50"/>
<polyline stroke="#ffa700" points="658.85,-218.94 668.70,274.72 678.55,301.65 688.40,308.16 698.25,308.74 708.10,308.20 717.95,310.27 727.80,311.95 737.65,310.96"/>
<polyline stroke="#ff6800" points="540.65,313.40 550.50,314.00 560.35,312.70 570.20,310.60 580.05,308.10 589.90,303.50 599.75,290.10 609.60,195.50 619.45,-4.50"/>
<polyline stroke="#ff6800" points="658.85,-274.50 668.70,271.00 678.55,301.70 688.40,309.10 698.25,309.10 708.10,308.10 717.95,310.20 727.80,311.90 737.65,310.80"/>
</g>
<line x1="541.5" y1="315.5" x2="738.5" y2="315.5" stroke="#000" stroke-width="1.05" stroke-dasharray="3.87 1.695" stroke-dashoffset="4.415"/>
<rect x="541.5" y="200.5" width="197.0" height="144.0" fill="none" stroke="#303030" stroke-width="1"/>
<path d="M541.5,344.5v5.1 M590.5,344.5v5.1 M639.5,344.5v5.1 M688.5,344.5v5.1 M738.5,344.5v5.1 M541.5,200.5h-5.1 M541.5,257.5h-5.1 M541.5,315.5h-5.1" stroke="#000" stroke-width="1.15" fill="none"/>
<g clip-path="url(#c20)" fill="none" stroke-width="2.08" stroke-linejoin="round" stroke-linecap="butt">
<polyline stroke="#000080" points="68.10,485.50 77.95,484.90 87.80,482.10 97.65,481.50 107.50,483.20 117.35,481.10 127.20,478.50 137.05,463.10 146.90,-1011.50"/>
<polyline stroke="#000080" points="186.30,88.50 196.15,449.50 206.00,474.30 215.85,477.90 225.70,481.50 235.55,482.80 245.40,483.60 255.25,485.30 265.10,486.40"/>
<polyline stroke="#0000cd" points="68.10,485.61 77.95,485.08 87.80,482.60 97.65,481.79 107.50,482.73 117.35,480.38 127.20,477.44 137.05,455.98 146.90,-311.50"/>
<polyline stroke="#0000cd" points="186.30,112.39 196.15,453.21 206.00,474.31 215.85,477.93 225.70,481.49 235.55,482.78 245.40,483.48 255.25,485.25 265.10,486.17"/>
<polyline stroke="#0008ff" points="68.10,485.67 77.95,485.17 87.80,482.85 97.65,481.94 107.50,482.48 117.35,480.01 127.20,476.38 137.05,448.87 146.90,8.50"/>
<polyline stroke="#0008ff" points="186.30,129.06 196.15,456.23 206.00,474.34 215.85,478.01 225.70,481.46 235.55,482.71 245.40,483.35 255.25,485.20 265.10,485.93"/>
<polyline stroke="#004cff" points="68.10,485.72 77.95,485.25 87.80,483.06 97.65,482.07 107.50,482.29 117.35,479.71 127.20,475.32 137.05,441.75 146.90,108.50"/>
<polyline stroke="#004cff" points="186.30,138.50 196.15,458.55 206.00,474.39 215.85,478.14 225.70,481.41 235.55,482.60 245.40,483.23 255.25,485.15 265.10,485.70"/>
<polyline stroke="#0090ff" points="68.10,485.76 77.95,485.31 87.80,483.24 97.65,482.17 107.50,482.11 117.35,479.44 127.20,474.27 137.05,434.63 146.90,148.50"/>
<polyline stroke="#0090ff" points="186.30,140.72 196.15,460.18 206.00,474.47 215.85,478.32 225.70,481.33 235.55,482.44 245.40,483.10 255.25,485.10 265.10,485.47"/>
<polyline stroke="#00d4ff" points="68.10,485.80 77.95,485.37 87.80,483.40 97.65,482.27 107.50,481.96 117.35,479.21 127.20,473.21 137.05,427.52 146.90,168.50"/>
<polyline stroke="#00d4ff" points="186.30,135.72 196.15,461.11 206.00,474.56 215.85,478.56 225.70,481.24 235.55,482.24 245.40,482.98 255.25,485.05 265.10,485.23"/>
<polyline stroke="#29ffce" points="68.10,485.83 77.95,485.43 87.80,483.55 97.65,482.36 107.50,481.81 117.35,478.99 127.20,472.15 137.05,420.40 146.90,168.50"/>
<polyline stroke="#29ffce" points="186.30,123.50 196.15,461.35 206.00,474.68 215.85,478.85 225.70,481.12 235.55,482.00 245.40,482.85 255.25,485.00 265.10,485.00"/>
<polyline stroke="#60ff97" points="68.10,485.86 77.95,485.48 87.80,483.69 97.65,482.44 107.50,481.68 117.35,478.78 127.20,471.09 137.05,413.28 146.90,168.50"/>
<polyline stroke="#60ff97" points="186.30,104.06 196.15,460.89 206.00,474.81 215.85,479.19 225.70,480.99 235.55,481.71 245.40,482.73 255.25,484.95 265.10,484.77"/>
<polyline stroke="#97ff60" points="68.10,485.89 77.95,485.53 87.80,483.82 97.65,482.52 107.50,481.55 117.35,478.59 127.20,470.03 137.05,406.17 146.90,168.50"/>
<polyline stroke="#97ff60" points="186.30,77.39 196.15,459.74 206.00,474.97 215.85,479.59 225.70,480.83 235.55,481.38 245.40,482.60 255.25,484.90 265.10,484.53"/>
<polyline stroke="#ceff29" points="68.10,485.92 77.95,485.57 87.80,483.95 97.65,482.59 107.50,481.43 117.35,478.41 127.20,468.98 137.05,399.05 146.90,168.50"/>
<polyline stroke="#ceff29" points="186.30,43.50 196.15,457.90 206.00,475.14 215.85,480.04 225.70,480.66 235.55,481.00 245.40,482.48 255.25,484.85 265.10,484.30"/>
<polyline stroke="#ffe600" points="68.10,485.95 77.95,485.62 87.80,484.07 97.65,482.67 107.50,481.32 117.35,478.23 127.20,467.92 137.05,391.93 146.90,168.50"/>
<polyline stroke="#ffe600" points="186.30,2.39 196.15,455.36 206.00,475.34 215.85,480.54 225.70,480.46 235.55,480.58 245.40,482.35 255.25,484.80 265.10,484.07"/>
<polyline stroke="#ffa700" points="68.10,485.97 77.95,485.66 87.80,484.19 97.65,482.73 107.50,481.21 117.35,478.06 127.20,466.86 137.05,384.82 146.90,168.50"/>
<polyline stroke="#ffa700" points="186.30,-45.94 196.15,452.13 206.00,475.56 215.85,481.09 225.70,480.24 235.55,480.11 245.40,482.23 255.25,484.75 265.10,483.83"/>
<polyline stroke="#ff6800" points="68.10,486.00 77.95,485.70 87.80,484.30 97.65,482.80 107.50,481.10 117.35,477.90 127.20,465.80 137.05,377.70 146.90,168.50"/>
<polyline stroke="#ff6800" points="186.30,-101.50 196.15,448.20 206.00,475.80 215.85,481.70 225.70,480.00 235.55,479.60 245.40,482.10 255.25,484.70 265.10,483.60"/>
</g>
<line x1="68.5" y1="488.5" x2="265.5" y2="488.5" stroke="#000" stroke-width="1.05" stroke-dasharray="3.87 1.695" stroke-dashoffset="1.165"/>
<rect x="68.5" y="372.5" width="197.0" height="144.0" fill="none" stroke="#303030" stroke-width="1"/>
<path d="M68.5,516.5v5.1 M117.5,516.5v5.1 M167.5,516.5v5.1 M216.5,516.5v5.1 M265.5,516.5v5.1 M68.5,372.5h-5.1 M68.5,430.5h-5.1 M68.5,488.5h-5.1" stroke="#000" stroke-width="1.15" fill="none"/>
<g clip-path="url(#c21)" fill="none" stroke-width="2.08" stroke-linejoin="round" stroke-linecap="butt">
<polyline stroke="#000080" points="304.40,484.80 314.25,483.60 324.10,481.90 333.95,479.70 343.80,483.20 353.65,481.70 363.50,480.00 373.35,464.10 383.20,-1011.50"/>
<polyline stroke="#000080" points="422.60,88.50 432.45,449.30 442.30,475.40 452.15,476.80 462.00,479.00 471.85,481.10 481.70,482.80 491.55,484.90 501.40,487.00"/>
<polyline stroke="#0000cd" points="304.40,485.00 314.25,483.89 324.10,482.19 333.95,480.02 343.80,482.48 353.65,480.93 363.50,478.94 373.35,458.10 383.20,-311.50"/>
<polyline stroke="#0000cd" points="422.60,112.39 432.45,453.03 442.30,475.42 452.15,476.84 462.00,478.99 471.85,481.08 481.70,482.66 491.55,484.85 501.40,486.72"/>
<polyline stroke="#0008ff" points="304.40,485.11 314.25,484.04 324.10,482.34 333.95,480.18 343.80,482.11 353.65,480.54 363.50,477.88 373.35,452.10 383.20,8.50"/>
<polyline stroke="#0008ff" points="422.60,129.06 432.45,456.11 442.30,475.47 452.15,476.95 462.00,478.96 471.85,481.02 481.70,482.52 491.55,484.80 501.40,486.43"/>
<polyline stroke="#004cff" points="304.40,485.19 314.25,484.17 324.10,482.47 333.95,480.31 343.80,481.81 353.65,480.22 363.50,476.82 373.35,446.10 383.20,108.50"/>
<polyline stroke="#004cff" points="422.60,138.50 432.45,458.55 442.30,475.56 452.15,477.13 462.00,478.91 471.85,480.93 481.70,482.38 491.55,484.75 501.40,486.15"/>
<polyline stroke="#0090ff" points="304.40,485.27 314.25,484.27 324.10,482.57 333.95,480.42 343.80,481.54 353.65,479.94 363.50,475.77 373.35,440.10 383.20,148.50"/>
<polyline stroke="#0090ff" points="422.60,140.72 432.45,460.34 442.30,475.68 452.15,477.39 462.00,478.83 471.85,480.79 481.70,482.23 491.55,484.70 501.40,485.87"/>
<polyline stroke="#00d4ff" points="304.40,485.33 314.25,484.37 324.10,482.67 333.95,480.53 343.80,481.31 353.65,479.69 363.50,474.71 373.35,434.10 383.20,168.50"/>
<polyline stroke="#00d4ff" points="422.60,135.72 432.45,461.49 442.30,475.83 452.15,477.72 462.00,478.74 471.85,480.61 481.70,482.09 491.55,484.65 501.40,485.58"/>
<polyline stroke="#29ffce" points="304.40,485.39 314.25,484.46 324.10,482.76 333.95,480.62 343.80,481.09 353.65,479.46 363.50,473.65 373.35,428.10 383.20,168.50"/>
<polyline stroke="#29ffce" points="422.60,123.50 432.45,462.00 442.30,476.02 452.15,478.12 462.00,478.62 471.85,480.40 481.70,481.95 491.55,484.60 501.40,485.30"/>
<polyline stroke="#60ff97" points="304.40,485.45 314.25,484.54 324.10,482.84 333.95,480.71 343.80,480.88 353.65,479.24 363.50,472.59 373.35,422.10 383.20,168.50"/>
<polyline stroke="#60ff97" points="422.60,104.06 432.45,461.86 442.30,476.25 452.15,478.60 462.00,478.49 471.85,480.15 481.70,481.81 491.55,484.55 501.40,485.02"/>
<polyline stroke="#97ff60" points="304.40,485.51 314.25,484.62 324.10,482.92 333.95,480.80 343.80,480.69 353.65,479.03 363.50,471.53 373.35,416.10 383.20,168.50"/>
<polyline stroke="#97ff60" points="422.60,77.39 432.45,461.08 442.30,476.51 452.15,479.16 462.00,478.33 471.85,479.86 481.70,481.67 491.55,484.50 501.40,484.73"/>
<polyline stroke="#ceff29" points="304.40,485.56 314.25,484.69 324.10,482.99 333.95,480.88 343.80,480.51 353.65,478.84 363.50,470.48 373.35,410.10 383.20,168.50"/>
<polyline stroke="#ceff29" points="422.60,43.50 432.45,459.65 442.30,476.81 452.15,479.78 462.00,478.16 471.85,479.52 481.70,481.52 491.55,484.45 501.40,484.45"/>
<polyline stroke="#ffe600" points="304.40,485.61 314.25,484.77 324.10,483.07 333.95,480.95 343.80,480.33 353.65,478.65 363.50,469.42 373.35,404.10 383.20,168.50"/>
<polyline stroke="#ffe600" points="422.60,2.39 432.45,457.58 442.30,477.14 452.15,480.48 462.00,477.96 471.85,479.16 481.70,481.38 491.55,484.40 501.40,484.17"/>
<polyline stroke="#ffa700" points="304.40,485.65 314.25,484.83 324.10,483.13 333.95,481.03 343.80,480.16 353.65,478.47 363.50,468.36 373.35,398.10 383.20,168.50"/>
<polyline stroke="#ffa700" points="422.60,-45.94 432.45,454.86 442.30,477.50 452.15,481.25 462.00,477.74 471.85,478.75 481.70,481.24 491.55,484.35 501.40,483.88"/>
<polyline stroke="#ff6800" points="304.40,485.70 314.25,484.90 324.10,483.20 333.95,481.10 343.80,480.00 353.65,478.30 363.50,467.30 373.35,392.10 383.20,168.50"/>
<polyline stroke="#ff6800" points="422.60,-101.50 432.45,451.50 442.30,477.90 452.15,482.10 462.00,477.50 471.85,478.30 481.70,481.10 491.55,484.30 501.40,483.60"/>
</g>
<line x1="304.5" y1="488.5" x2="501.5" y2="488.5" stroke="#000" stroke-width="1.05" stroke-dasharray="3.87 1.695" stroke-dashoffset="3.215"/>
<rect x="304.5" y="372.5" width="197.0" height="144.0" fill="none" stroke="#303030" stroke-width="1"/>
<path d="M304.5,516.5v5.1 M354.5,516.5v5.1 M403.5,516.5v5.1 M452.5,516.5v5.1 M501.5,516.5v5.1 M304.5,372.5h-5.1 M304.5,430.5h-5.1 M304.5,488.5h-5.1" stroke="#000" stroke-width="1.15" fill="none"/>
<g clip-path="url(#c22)" fill="none" stroke-width="2.08" stroke-linejoin="round" stroke-linecap="butt">
<polyline stroke="#000080" points="540.65,484.20 550.50,482.30 560.35,480.70 570.20,477.50 580.05,482.80 589.90,483.80 599.75,481.10 609.60,466.30 619.45,-1011.50"/>
<polyline stroke="#000080" points="658.85,88.50 668.70,449.30 678.55,476.20 688.40,475.80 698.25,477.30 708.10,480.00 717.95,481.50 727.80,484.30 737.65,487.50"/>
<polyline stroke="#0000cd" points="540.65,484.45 550.50,482.59 560.35,481.02 570.20,477.73 580.05,482.08 589.90,482.94 599.75,480.22 609.60,460.82 619.45,-311.50"/>
<polyline stroke="#0000cd" points="658.85,112.39 668.70,453.58 678.55,476.22 688.40,475.84 698.25,477.29 708.10,479.98 717.95,481.38 727.80,484.30 737.65,487.14"/>
<polyline stroke="#0008ff" points="540.65,484.58 550.50,482.74 560.35,481.18 570.20,477.84 580.05,481.71 589.90,482.50 599.75,479.33 609.60,455.35 619.45,8.50"/>
<polyline stroke="#0008ff" points="658.85,129.06 668.70,457.20 678.55,476.28 688.40,475.96 698.25,477.24 708.10,479.91 717.95,481.25 727.80,484.30 737.65,486.78"/>
<polyline stroke="#004cff" points="540.65,484.68 550.50,482.87 560.35,481.31 570.20,477.94 580.05,481.41 589.90,482.15 599.75,478.45 609.60,449.88 619.45,108.50"/>
<polyline stroke="#004cff" points="658.85,138.50 668.70,460.15 678.55,476.38 688.40,476.16 698.25,477.17 708.10,479.80 717.95,481.12 727.80,484.30 737.65,486.43"/>
<polyline stroke="#0090ff" points="540.65,484.77 550.50,482.97 560.35,481.42 570.20,478.02 580.05,481.14 589.90,481.83 599.75,477.57 609.60,444.40 619.45,148.50"/>
<polyline stroke="#0090ff" points="658.85,140.72 668.70,462.43 678.55,476.51 688.40,476.43 698.25,477.07 708.10,479.64 717.95,481.00 727.80,484.30 737.65,486.07"/>
<polyline stroke="#00d4ff" points="540.65,484.85 550.50,483.07 560.35,481.53 570.20,478.09 580.05,480.91 589.90,481.55 599.75,476.68 609.60,438.93 619.45,168.50"/>
<polyline stroke="#00d4ff" points="658.85,135.72 668.70,464.05 678.55,476.69 688.40,476.79 698.25,476.94 708.10,479.44 717.95,480.88 727.80,484.30 737.65,485.71"/>
<polyline stroke="#29ffce" points="540.65,484.93 550.50,483.16 560.35,481.62 570.20,478.16 580.05,480.69 589.90,481.29 599.75,475.80 609.60,433.45 619.45,168.50"/>
<polyline stroke="#29ffce" points="658.85,123.50 668.70,465.00 678.55,476.90 688.40,477.23 698.25,476.77 708.10,479.20 717.95,480.75 727.80,484.30 737.65,485.35"/>
<polyline stroke="#60ff97" points="540.65,485.00 550.50,483.24 560.35,481.71 570.20,478.22 580.05,480.48 589.90,481.05 599.75,474.92 609.60,427.98 619.45,168.50"/>
<polyline stroke="#60ff97" points="658.85,104.06 668.70,465.28 678.55,477.15 688.40,477.74 698.25,476.59 708.10,478.91 717.95,480.62 727.80,484.30 737.65,484.99"/>
<polyline stroke="#97ff60" points="540.65,485.06 550.50,483.32 560.35,481.80 570.20,478.28 580.05,480.29 589.90,480.82 599.75,474.03 609.60,422.50 619.45,168.50"/>
<polyline stroke="#97ff60" points="658.85,77.39 668.70,464.90 678.55,477.44 688.40,478.33 698.25,476.37 708.10,478.58 717.95,480.50 727.80,484.30 737.65,484.63"/>
<polyline stroke="#ceff29" points="540.65,485.13 550.50,483.39 560.35,481.88 570.20,478.34 580.05,480.11 589.90,480.60 599.75,473.15 609.60,417.02 619.45,168.50"/>
<polyline stroke="#ceff29" points="658.85,43.50 668.70,463.85 678.55,477.77 688.40,479.01 698.25,476.12 708.10,478.20 717.95,480.38 727.80,484.30 737.65,484.27"/>
<polyline stroke="#ffe600" points="540.65,485.19 550.50,483.47 560.35,481.95 570.20,478.40 580.05,479.93 589.90,480.39 599.75,472.27 609.60,411.55 619.45,168.50"/>
<polyline stroke="#ffe600" points="658.85,2.39 668.70,462.13 678.55,478.14 688.40,479.76 698.25,475.84 708.10,477.78 717.95,480.25 727.80,484.30 737.65,483.92"/>
<polyline stroke="#ffa700" points="540.65,485.24 550.50,483.53 560.35,482.03 570.20,478.45 580.05,479.76 589.90,480.19 599.75,471.38 609.60,406.07 619.45,168.50"/>
<polyline stroke="#ffa700" points="658.85,-45.94 668.70,459.75 678.55,478.55 688.40,480.59 698.25,475.54 708.10,477.31 717.95,480.12 727.80,484.30 737.65,483.56"/>
<polyline stroke="#ff6800" points="540.65,485.30 550.50,483.60 560.35,482.10 570.20,478.50 580.05,479.60 589.90,480.00 599.75,470.50 609.60,400.60 619.45,168.50"/>
<polyline stroke="#ff6800" points="658.85,-101.50 668.70,456.70 678.55,479.00 688.40,481.50 698.25,475.20 708.10,476.80 717.95,480.00 727.80,484.30 737.65,483.20"/>
</g>
<line x1="541.5" y1="488.5" x2="738.5" y2="488.5" stroke="#000" stroke-width="1.05" stroke-dasharray="3.87 1.695" stroke-dashoffset="4.415"/>
<rect x="541.5" y="372.5" width="197.0" height="144.0" fill="none" stroke="#303030" stroke-width="1"/>
<path d="M541.5,516.5v5.1 M590.5,516.5v5.1 M639.5,516.5v5.1 M688.5,516.5v5.1 M738.5,516.5v5.1 M541.5,372.5h-5.1 M541.5,430.5h-5.1 M541.5,488.5h-5.1" stroke="#000" stroke-width="1.15" fill="none"/>
<g style="filter:grayscale(1)">
<text x="106.2" y="20.6" font-size="17.9">X = 227 (pix)</text>
<text x="343.35" y="20.6" font-size="17.9">X = 682 (pix)</text>
<text x="573.35" y="20.6" font-size="17.9">X = 1137 (pix)</text>
<text x="101.2" y="193.6" font-size="17.9">X = 1592 (pix)</text>
<text x="337.26" y="193.6" font-size="17.9">X = 2048 (pix)</text>
<text x="573.34" y="193.6" font-size="17.9">X = 2503 (pix)</text>
<text x="101.2" y="366.7" font-size="17.9">X = 2958 (pix)</text>
<text x="337.26" y="366.7" font-size="17.9">X = 3413 (pix)</text>
<text x="573.35" y="366.7" font-size="17.9">X = 3868 (pix)</text>
<text x="68.1" y="536.9" font-size="15.28" text-anchor="middle" textLength="17.6" lengthAdjust="spacing">10</text>
<text x="116.85" y="536.9" font-size="15.28" text-anchor="middle" textLength="17.6" lengthAdjust="spacing">15</text>
<text x="166.1" y="536.9" font-size="15.28" text-anchor="middle" textLength="17.6" lengthAdjust="spacing">20</text>
<text x="215.35" y="536.9" font-size="15.28" text-anchor="middle" textLength="17.6" lengthAdjust="spacing">25</text>
<text x="264.6" y="536.9" font-size="15.28" text-anchor="middle" textLength="17.6" lengthAdjust="spacing">30</text>
<text x="59.5" y="378.2" font-size="15.28" text-anchor="end" textLength="33.4" lengthAdjust="spacing">0.02</text>
<text x="59.5" y="436.2" font-size="15.28" text-anchor="end" textLength="33.4" lengthAdjust="spacing">0.01</text>
<text x="59.5" y="494.2" font-size="15.28" text-anchor="end" textLength="33.4" lengthAdjust="spacing">0.00</text>
<text x="124.0" y="556.3" font-size="15.28" textLength="84.2" lengthAdjust="spacing">X axis (pix)</text>
<text transform="translate(18.4,446.0) rotate(-90)" font-size="15.28" text-anchor="middle" textLength="44" lengthAdjust="spacing" stroke="#000" stroke-width="0.35">Count</text>
</g>
</svg>
</body></html>
